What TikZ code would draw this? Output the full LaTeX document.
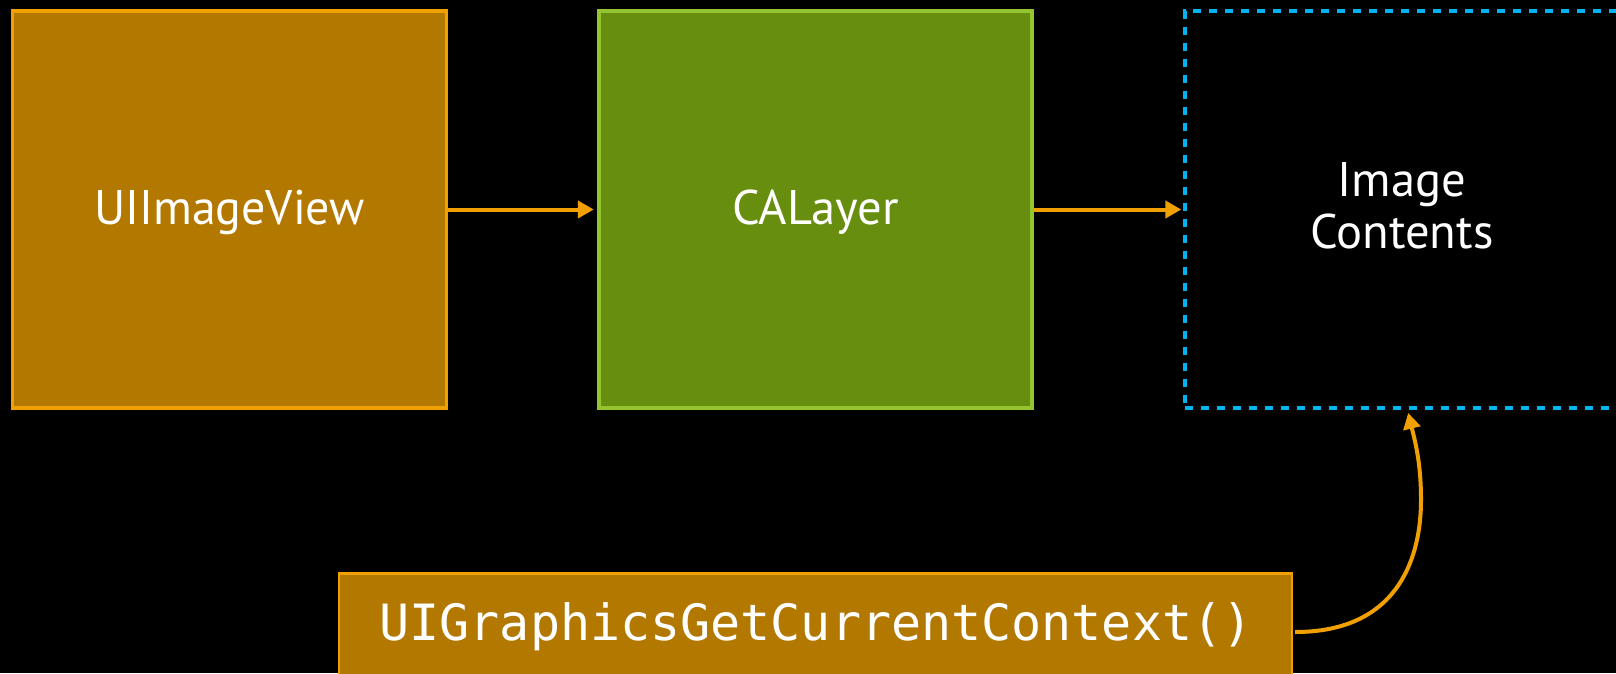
\documentclass[tikz,border=0pt]{standalone}
\usepackage{fontspec}
\setmainfont{PT Sans}
\setmonofont{DejaVu Sans Mono}
\usetikzlibrary{arrows.meta}

\definecolor{viewfill}{HTML}{B27800}
\definecolor{viewline}{HTML}{F0A000}
\definecolor{layerfill}{HTML}{688E0F}
\definecolor{layerline}{HTML}{94C530}
\definecolor{contentline}{HTML}{00B4F0}
\definecolor{flowcolor}{HTML}{F0A000}

\begin{document}
\begin{tikzpicture}[x=1pt, y=-1pt,
  boxbase/.style={rectangle, inner sep=0pt},
  viewbox/.style={boxbase, fill=viewfill, draw=viewline, line width=3.5pt},
  layerbox/.style={boxbase, fill=layerfill, draw=layerline, line width=4pt},
  contentbox/.style={boxbase, draw=contentline, line width=4pt, dash pattern=on 8pt off 8pt},
  ctxbox/.style={boxbase, fill=viewfill, draw=viewline, line width=2.5pt},
  lbl/.style={text=white, inner sep=0pt, font=\fontsize{48.6}{51.6}\selectfont},
  code/.style={text=white, inner sep=0pt, font=\ttfamily\fontsize{50}{60}\selectfont},
  flow/.style={draw=flowcolor, line width=4pt, -{Triangle[length=16pt, width=17pt]}}
]
\fill[black] (0,0) rectangle (1616,673);
\useasboundingbox (0,0) rectangle (1616,673);

% boxes
\node[viewbox, minimum width=434pt, minimum height=397pt] (view) at (229.5,209.5) {};
\node[layerbox, minimum width=432.7pt, minimum height=397pt] (layer) at (815.65,209.5) {};
\node[contentbox, minimum width=433.7pt, minimum height=396.7pt] (contents) at (1402.15,209.5) {};
\node[ctxbox, minimum width=953.1pt, minimum height=117.4pt] (ctx) at (815.35,632) {};

% labels
\node[lbl, anchor=base, xscale=0.985] (viewtxt) at (229.5,224) {UIImageView};
\node[lbl, anchor=base] (layertxt) at (815.6,224) {CALayer};
\node[lbl, align=center] (contenttxt) at (1402,206) {Image\\Contents};
\node[code, anchor=base] (ctxtxt) at (816,640.7) {UIGraphicsGetCurrentContext()};

% connectors
\draw[flow, shorten >=3.5pt] (view.east) -- (layer.west);
\draw[flow, shorten >=2pt] (layer.east) -- (contents.west);
\draw[flow] ([xshift=2pt]ctx.east)
  .. controls (1400,632) and (1421,555) .. (1421,500)
  .. controls (1421,465) and (1416,445) .. ([xshift=6pt,yshift=-3pt]contents.south);
\end{tikzpicture}
\end{document}
